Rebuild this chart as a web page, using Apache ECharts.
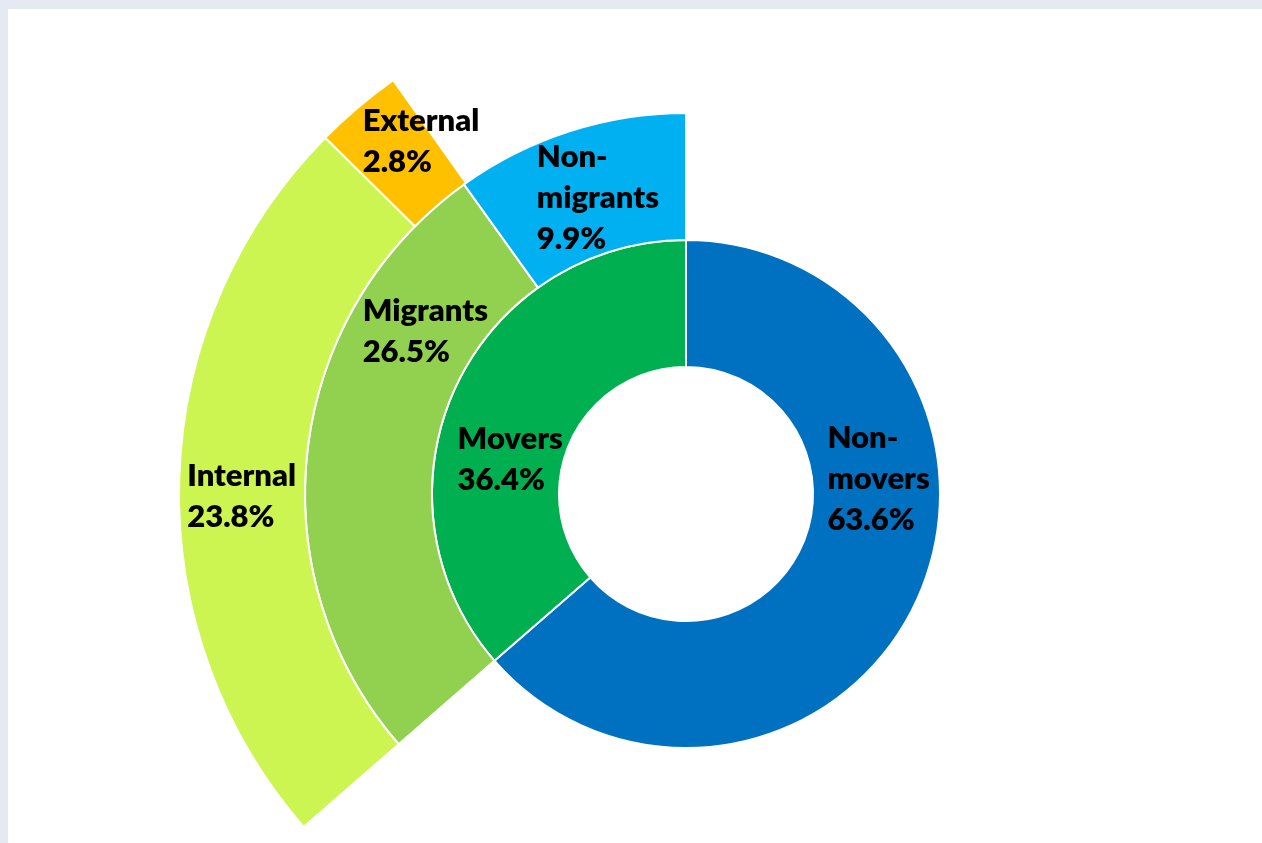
<!DOCTYPE html>
<html>
<head>
<meta charset="utf-8">
<title>Movers and migrants</title>
<script src="https://cdn.jsdelivr.net/npm/echarts@6/dist/echarts.min.js"></script>
<style>
  html, body { margin: 0; padding: 0; background: #e5e9f2; overflow: hidden; }
  #chart { position: absolute; left: 8px; top: 9px; width: 1254px; height: 834px; background: #ffffff; }
</style>
</head>
<body>
<div id="chart"></div>
<script>
// Share of the population (%) by mobility status
const moveNames = ['Non-movers', 'Movers'];
const moveValues = [63.6, 36.4];
const moverNames = ['Migrants', 'Non-migrants'];
const moverValues = [26.5, 9.9];
const migrantNames = ['Internal', 'External'];
const migrantValues = [23.8, 2.8];

// Words of each label, broken as printed
const labelWords = {
  'Non-movers': ['Non-', 'movers'],
  'Movers': ['Movers'],
  'Migrants': ['Migrants'],
  'Non-migrants': ['Non-', 'migrants'],
  'Internal': ['Internal'],
  'External': ['External']
};

// Styling
const colors = {
  'Non-movers': '#0070c0',
  'Movers': '#00b050',
  'Migrants': '#92d050',
  'Non-migrants': '#00b0f0',
  'Internal': '#cdf552',
  'External': '#ffc000'
};
const labelBoxWidth = 140;
// Nudge of each label from the middle of its sector, [dx, dy] in px
const labelNudge = {
  'Non-movers': [38, -94],
  'Movers': [15, 44],
  'Migrants': [62, -126],
  'Non-migrants': [18, 6],
  'Internal': [15, 16],
  'External': [34, -14]
};

function node(name, value, children) {
  const n = labelNudge[name];
  // asymmetric padding shifts the text block by half the difference
  const pad = [Math.max(0, 2 * n[1]), Math.max(0, -2 * n[0]), Math.max(0, -2 * n[1]), Math.max(0, 2 * n[0])];
  const item = { name: name, value: value, itemStyle: { color: colors[name] }, label: { padding: pad } };
  if (children) item.children = children;
  return item;
}

const migrantNodes = migrantNames.map((n, i) => node(n, migrantValues[i]));
const moverNodes = [
  node(moverNames[0], moverValues[0], migrantNodes),
  node(moverNames[1], moverValues[1])
];
const treeData = [
  node(moveNames[0], moveValues[0]),
  node(moveNames[1], moveValues[1], moverNodes)
];

const textFont = { fontFamily: 'Lato', fontWeight: 800, fontSize: 31, lineHeight: 41, color: '#000000' };

const chart = echarts.init(document.getElementById('chart'), null, { renderer: 'canvas' });
chart.setOption({
  animation: false,
  series: [{
    type: 'sunburst',
    center: [678, 485],
    sort: null,
    nodeClick: false,
    startAngle: 90,
    clockwise: true,
    data: treeData,
    itemStyle: { borderColor: '#ffffff', borderWidth: 2 },
    emphasis: { disabled: true },
    label: Object.assign({
      show: true,
      rotate: 0,
      align: 'center',
      verticalAlign: 'middle',
      width: labelBoxWidth,
      formatter: function (p) {
        const lines = labelWords[p.name].concat([p.value.toFixed(1) + '%']);
        return lines.map(l => '{a|' + l + '}').join('\n');
      },
      rich: { a: Object.assign({ align: 'left' }, textFont) }
    }, textFont),
    levels: [
      {},
      { r0: 127, r: 254 },
      { r0: 254, r: 381 },
      { r0: 381, r: 507 }
    ]
  }]
});
</script>
</body>
</html>
